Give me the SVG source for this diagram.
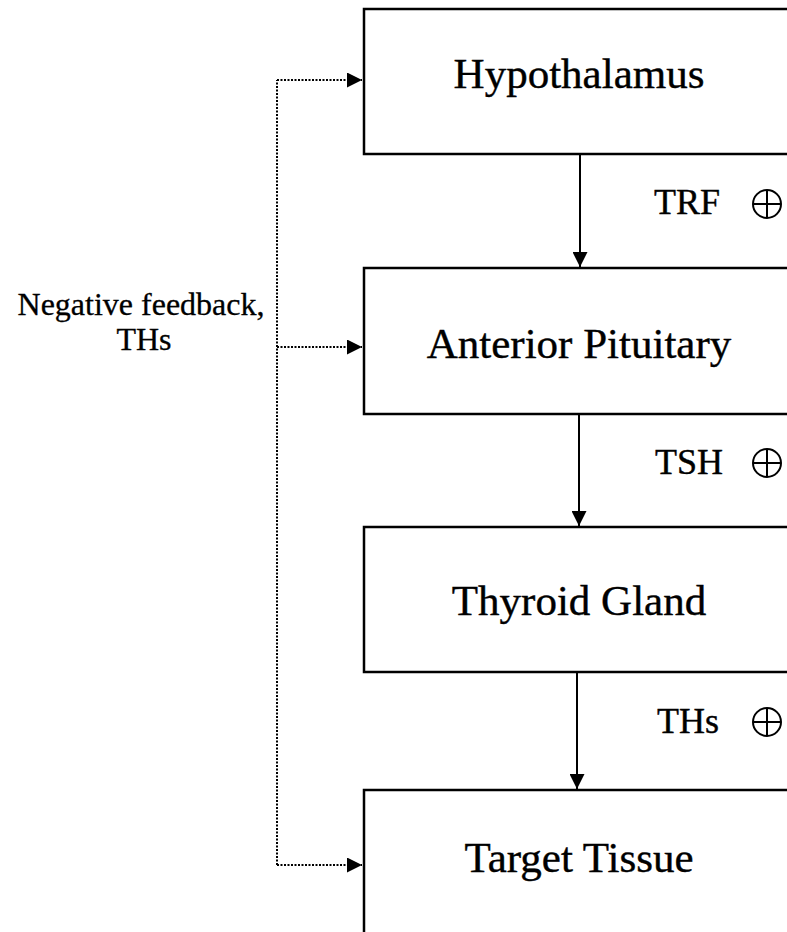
<svg xmlns="http://www.w3.org/2000/svg" width="787" height="932" viewBox="0 0 787 932">
<style>
.box{fill:#fff;stroke:#000;stroke-width:2.5}
.lbl{font-family:"Liberation Serif","Times New Roman",serif;font-size:43px;fill:#000;stroke:#000;stroke-width:0.4;text-anchor:middle}
.hl{font-family:"Liberation Serif","Times New Roman",serif;font-size:36px;fill:#000;stroke:#000;stroke-width:0.4}
.fb{font-family:"Liberation Serif","Times New Roman",serif;font-size:32px;fill:#000;stroke:#000;stroke-width:0.3;text-anchor:middle}
.solid{stroke:#000;stroke-width:2;fill:none}
.dot{stroke:#000;stroke-width:2;fill:none;stroke-dasharray:2 1.5}
.plus{stroke:#000;stroke-width:2;fill:none}
</style>
<defs>
<marker id="ah" viewBox="0 0 10 10" refX="10" refY="5" markerWidth="15" markerHeight="15" markerUnits="userSpaceOnUse" orient="auto">
<path d="M0,0 L10,5 L0,10 z" fill="#000"/>
</marker>
</defs>
<g id="hypothalamus">
<rect class="box" x="364" y="9" width="440" height="145"/>
<text class="lbl" x="579" y="88">Hypothalamus</text>
</g>
<g id="anterior-pituitary">
<rect class="box" x="364" y="268" width="440" height="146"/>
<text class="lbl" x="579" y="358">Anterior Pituitary</text>
</g>
<g id="thyroid-gland">
<rect class="box" x="364" y="527" width="440" height="145"/>
<text class="lbl" x="579" y="615">Thyroid Gland</text>
</g>
<g id="target-tissue">
<rect class="box" x="364" y="790" width="440" height="160"/>
<text class="lbl" x="579" y="872">Target Tissue</text>
</g>
<g id="feedback-label">
<text class="fb" x="141" y="315">Negative feedback,</text>
<text class="fb" x="144" y="350">THs</text>
</g>
<g id="connectors">
<line class="solid" x1="580" y1="155" x2="580" y2="267" marker-end="url(#ah)"/>
<line class="solid" x1="579" y1="415" x2="579" y2="526" marker-end="url(#ah)"/>
<line class="solid" x1="577" y1="673" x2="577" y2="789" marker-end="url(#ah)"/>
<path class="dot" d="M277,865 V80"/>
<line class="dot" x1="277" y1="80" x2="362" y2="80" marker-end="url(#ah)"/>
<line class="dot" x1="277" y1="347" x2="362" y2="347" marker-end="url(#ah)"/>
<line class="dot" x1="277" y1="865" x2="362" y2="865" marker-end="url(#ah)"/>
</g>
<g id="labels">
<text class="hl" x="654" y="214">TRF</text>
<circle class="plus" cx="767" cy="204" r="14"/>
<path class="plus" d="M753,204 H781 M767,190 V218"/>
<text class="hl" x="655" y="474">TSH</text>
<circle class="plus" cx="767" cy="463" r="14"/>
<path class="plus" d="M753,463 H781 M767,449 V477"/>
<text class="hl" x="657" y="733">THs</text>
<circle class="plus" cx="767" cy="722" r="14"/>
<path class="plus" d="M753,722 H781 M767,708 V736"/>
</g>
</svg>
